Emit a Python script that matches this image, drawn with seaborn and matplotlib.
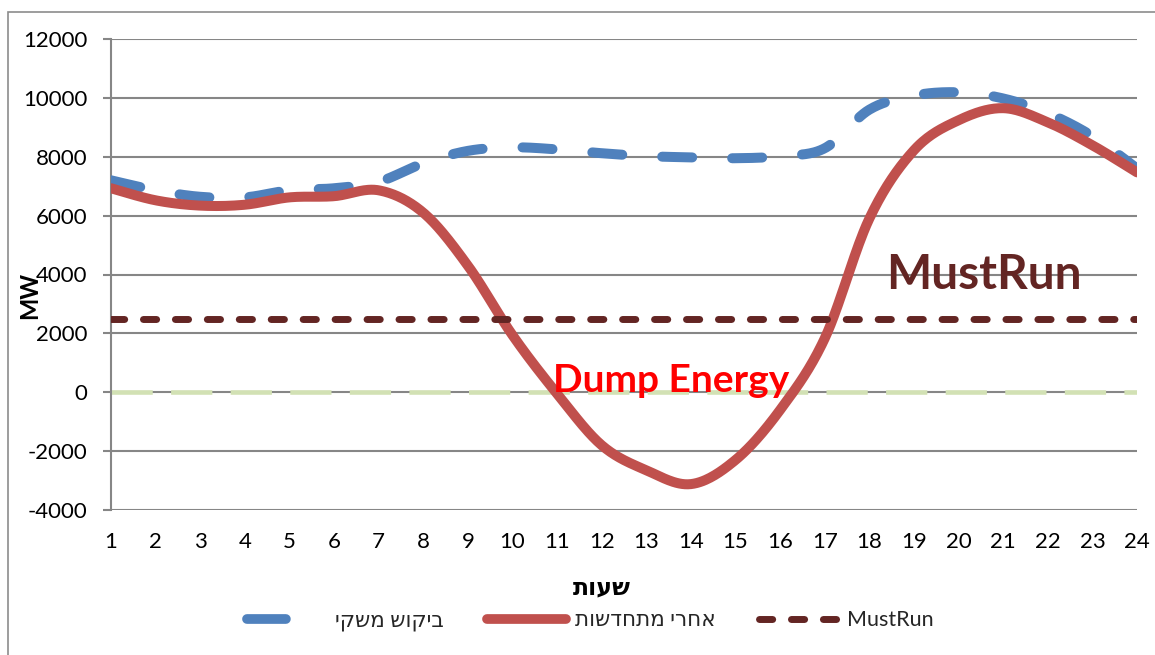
import numpy as np
import pandas as pd
import matplotlib
matplotlib.use("Agg")
import matplotlib.pyplot as plt
import seaborn as sns
from matplotlib.patches import Rectangle

# Hourly profile (MW)
hours = list(range(1, 25))
demand = [7200, 6860, 6640, 6620, 6860, 6930, 7150, 7780, 8200, 8320, 8250, 8120,
          8020, 7980, 7950, 8020, 8290, 9600, 10080, 10190, 9980, 9480, 8700, 7600]
net_renewables = [6930, 6520, 6340, 6370, 6620, 6660, 6860, 6100, 4300, 1940, -50, -1800,
                  -2650, -3120, -2300, -600, 1830, 5900, 8220, 9240, 9650, 9170, 8390, 7470]
must_run = [2500] * 24

series_names = ["ביקוש משקי", "אחרי מתחדשות", "MustRun"]
y_ticks = list(range(-4000, 12001, 2000))


def rtl(s):
    # matplotlib lays glyphs out left-to-right; flip Hebrew runs for display
    return s[::-1] if any("\u0590" <= c <= "\u05FF" for c in s) else s


def smooth(x, y, n=30):
    """Excel-style smoothed line: cubic Bezier segments with 1/6 neighbour tangents."""
    x = np.asarray(x, float)
    y = np.asarray(y, float)
    px = np.concatenate([[x[0]], x, [x[-1]]])
    py = np.concatenate([[y[0]], y, [y[-1]]])
    xs, ys = [], []
    t = np.linspace(0, 1, n, endpoint=False)
    for i in range(1, len(px) - 2):
        p0 = np.array([px[i], py[i]])
        p3 = np.array([px[i + 1], py[i + 1]])
        p1 = p0 + (np.array([px[i + 1], py[i + 1]]) - np.array([px[i - 1], py[i - 1]])) / 6
        p2 = p3 - (np.array([px[i + 2], py[i + 2]]) - np.array([px[i], py[i]])) / 6
        b = ((1 - t) ** 3)[:, None] * p0 + (3 * (1 - t) ** 2 * t)[:, None] * p1 \
            + (3 * (1 - t) * t ** 2)[:, None] * p2 + (t ** 3)[:, None] * p3
        xs.append(b[:, 0])
        ys.append(b[:, 1])
    xs.append([x[-1]])
    ys.append([y[-1]])
    return np.concatenate(xs), np.concatenate(ys)


sns.set_theme(style="white")
plt.rcParams["font.family"] = ["Lato", "DejaVu Sans"]
plt.rcParams["axes.unicode_minus"] = False

fig = plt.figure(figsize=(11.55, 6.55), dpi=100)
ax = fig.add_axes([111 / 1155, 1 - 510 / 655, 1026 / 1155, 471 / 655])

# outer chart border
fig.patches.append(Rectangle((8 / 1155, -0.05), 1.2, 1 - 12 / 655 + 0.05,
                             transform=fig.transFigure, fill=False,
                             edgecolor="#8c8c8c", linewidth=1.2, zorder=0))

blue = "#4F81BD"
red = "#C0504D"
brown = "#632523"

# zero reference
ax.axhline(0, color="#D2E1B4", linewidth=3.3, dashes=(9, 4), zorder=2)

sx, sy = smooth(hours, demand)
df_d = pd.DataFrame({"hour": sx, "MW": sy})
sns.lineplot(data=df_d, x="hour", y="MW", ax=ax, color=blue, linewidth=7.2,
             sort=False, label=rtl(series_names[0]), zorder=3, estimator=None)
ax.lines[-1].set_dashes((3, 4))
ax.lines[-1].set_dash_capstyle("round")

sx, sy = smooth(hours, net_renewables)
df_r = pd.DataFrame({"hour": sx, "MW": sy})
sns.lineplot(data=df_r, x="hour", y="MW", ax=ax, color=red, linewidth=7.2,
             sort=False, label=rtl(series_names[1]), zorder=4, estimator=None)
ax.lines[-1].set_solid_capstyle("round")

df_m = pd.DataFrame({"hour": hours, "MW": must_run})
sns.lineplot(data=df_m, x="hour", y="MW", ax=ax, color=brown, linewidth=5,
             sort=False, label=series_names[2], zorder=4, estimator=None)
ax.lines[-1].set_dashes((1.9, 2.7))
ax.lines[-1].set_dash_capstyle("round")

ax.text(13.56, 400, "Dump Energy", color="#FF0000", fontsize=28, fontweight="bold",
        ha="center", va="center", zorder=6)
ax.text(20.57, 3970, "MustRun", color=brown, fontsize=34.5, fontweight="bold",
        ha="center", va="center", zorder=6)

ax.set_xlim(1, 24)
ax.set_ylim(-4000, 12000)
ax.set_xticks(hours)
ax.set_yticks(y_ticks)
ax.grid(axis="y", color="#868686", linewidth=1.5)
ax.grid(axis="x", visible=False)
for side in ["top", "right", "bottom"]:
    ax.spines[side].set_visible(False)
ax.spines["left"].set_color("#868686")
ax.spines["left"].set_linewidth(1.5)
ax.tick_params(axis="y", length=6, width=1.5, color="#868686", pad=11,
               labelsize=16, left=True, labelcolor="black")
ax.tick_params(axis="x", length=0, pad=16, labelsize=16, labelcolor="black")

ax.set_xlabel(rtl("שעות"), fontsize=17, fontweight="bold", color="black")
ax.xaxis.set_label_coords(0.478, -0.138)
ax.set_ylabel("MW", fontsize=17, fontweight="bold", color="black")
ax.yaxis.set_label_coords(-0.068, 0.456)

leg = ax.legend(loc="center", bbox_to_anchor=(0.467, -0.235), ncol=3, frameon=False,
                fontsize=15.5, handlelength=3.7, handletextpad=0.4, columnspacing=2.0)
for h in leg.get_lines():
    if h.get_color() == brown:
        h.set_linewidth(5)
        h.set_dashes((1.9, 2.7))
    else:
        h.set_linewidth(7)
    if h.get_color() == blue:
        h.set_dashes((4, 10))

fig.savefig("out.png", dpi=100)
